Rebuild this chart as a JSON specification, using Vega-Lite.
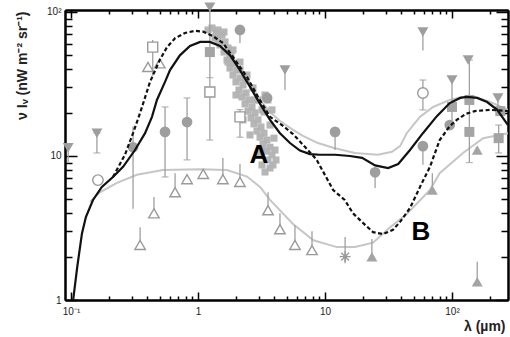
{
  "$schema": "https://vega.github.io/schema/vega-lite/v6.json",
  "width": 443,
  "height": 290,
  "autosize": {"type": "none"},
  "padding": {"left": 65, "top": 10, "right": 2, "bottom": 37},
  "background": "white",
  "config": {
    "view": {"stroke": null},
    "axis": {
      "grid": false,
      "domainColor": "#000",
      "domainWidth": 2,
      "tickColor": "#000",
      "tickWidth": 1.5,
      "labelFont": "Liberation Sans",
      "labelFontSize": 10,
      "labelColor": "#222",
      "titleFont": "Liberation Sans"
    }
  },
  "datasets": {
    "frame": [{"x": 1, "y": 10}],
    "curves": [
      {"s": "G2", "x": 0.141, "y": 4.8}, {"s": "G2", "x": 0.169, "y": 5.6}, {"s": "G2", "x": 0.23, "y": 6.5},
      {"s": "G2", "x": 0.33, "y": 7.4}, {"s": "G2", "x": 0.53, "y": 8.0}, {"s": "G2", "x": 1.04, "y": 8.1},
      {"s": "G2", "x": 1.69, "y": 8.0}, {"s": "G2", "x": 2.43, "y": 7.2}, {"s": "G2", "x": 3.08, "y": 6.1},
      {"s": "G2", "x": 3.69, "y": 4.95}, {"s": "G2", "x": 5.6, "y": 3.37}, {"s": "G2", "x": 8.1, "y": 2.6},
      {"s": "G2", "x": 12.4, "y": 2.33}, {"s": "G2", "x": 17.2, "y": 2.33}, {"s": "G2", "x": 23.9, "y": 2.5},
      {"s": "G2", "x": 32.6, "y": 3.2}, {"s": "G2", "x": 44, "y": 3.95}, {"s": "G2", "x": 67, "y": 5.8},
      {"s": "G2", "x": 80, "y": 7.6}, {"s": "G2", "x": 122, "y": 10.5}, {"s": "G2", "x": 176, "y": 13.3},
      {"s": "G2", "x": 276, "y": 14.4},

      {"s": "G1", "x": 2.34, "y": 37}, {"s": "G1", "x": 3.08, "y": 24.5}, {"s": "G1", "x": 3.69, "y": 20.2},
      {"s": "G1", "x": 4.42, "y": 17.5}, {"s": "G1", "x": 5.6, "y": 15.2}, {"s": "G1", "x": 6.7, "y": 13.8},
      {"s": "G1", "x": 8.8, "y": 12.3}, {"s": "G1", "x": 11.6, "y": 11.4}, {"s": "G1", "x": 17.2, "y": 10.5},
      {"s": "G1", "x": 26, "y": 10.2}, {"s": "G1", "x": 33.7, "y": 10.7}, {"s": "G1", "x": 39, "y": 11.7},
      {"s": "G1", "x": 44, "y": 14.4}, {"s": "G1", "x": 56, "y": 18.7}, {"s": "G1", "x": 71, "y": 21.9},
      {"s": "G1", "x": 96, "y": 24.5}, {"s": "G1", "x": 120, "y": 25.7}, {"s": "G1", "x": 151, "y": 25.7},
      {"s": "G1", "x": 200, "y": 23.7}, {"s": "G1", "x": 276, "y": 20.9},

      {"s": "A", "x": 0.102, "y": 0.85}, {"s": "A", "x": 0.104, "y": 1.0}, {"s": "A", "x": 0.112, "y": 1.7},
      {"s": "A", "x": 0.122, "y": 2.9}, {"s": "A", "x": 0.131, "y": 3.77}, {"s": "A", "x": 0.149, "y": 4.95},
      {"s": "A", "x": 0.175, "y": 6.1}, {"s": "A", "x": 0.214, "y": 7.15}, {"s": "A", "x": 0.257, "y": 8.4},
      {"s": "A", "x": 0.319, "y": 11.0}, {"s": "A", "x": 0.383, "y": 14.4}, {"s": "A", "x": 0.434, "y": 18.7},
      {"s": "A", "x": 0.475, "y": 24.5}, {"s": "A", "x": 0.55, "y": 32.7}, {"s": "A", "x": 0.602, "y": 39.5},
      {"s": "A", "x": 0.72, "y": 50}, {"s": "A", "x": 0.865, "y": 58}, {"s": "A", "x": 1.04, "y": 62},
      {"s": "A", "x": 1.24, "y": 62}, {"s": "A", "x": 1.49, "y": 58}, {"s": "A", "x": 1.79, "y": 50},
      {"s": "A", "x": 2.14, "y": 39.5}, {"s": "A", "x": 2.57, "y": 30.2}, {"s": "A", "x": 3.08, "y": 23},
      {"s": "A", "x": 3.69, "y": 17.8}, {"s": "A", "x": 4.42, "y": 14.4}, {"s": "A", "x": 5.3, "y": 12.3},
      {"s": "A", "x": 6.35, "y": 10.9}, {"s": "A", "x": 7.6, "y": 10.3}, {"s": "A", "x": 9.1, "y": 10.2},
      {"s": "A", "x": 12, "y": 10.2}, {"s": "A", "x": 15.7, "y": 10.0}, {"s": "A", "x": 19.6, "y": 9.7},
      {"s": "A", "x": 24.8, "y": 8.6}, {"s": "A", "x": 31.4, "y": 8.25}, {"s": "A", "x": 37.7, "y": 8.8},
      {"s": "A", "x": 46.7, "y": 11.0}, {"s": "A", "x": 59, "y": 14.4}, {"s": "A", "x": 76, "y": 18.9},
      {"s": "A", "x": 96, "y": 23.3}, {"s": "A", "x": 116, "y": 25.3}, {"s": "A", "x": 131, "y": 25.7},
      {"s": "A", "x": 158, "y": 25.3}, {"s": "A", "x": 189, "y": 23.7}, {"s": "A", "x": 227, "y": 20.9},
      {"s": "A", "x": 276, "y": 16.4},

      {"s": "B", "x": 0.214, "y": 7.15}, {"s": "B", "x": 0.266, "y": 10.2}, {"s": "B", "x": 0.308, "y": 14.4},
      {"s": "B", "x": 0.35, "y": 19.9}, {"s": "B", "x": 0.419, "y": 32.7}, {"s": "B", "x": 0.5, "y": 46.4},
      {"s": "B", "x": 0.57, "y": 57}, {"s": "B", "x": 0.66, "y": 65.7}, {"s": "B", "x": 0.79, "y": 71.5},
      {"s": "B", "x": 0.95, "y": 74}, {"s": "B", "x": 1.1, "y": 73}, {"s": "B", "x": 1.31, "y": 68},
      {"s": "B", "x": 1.57, "y": 61}, {"s": "B", "x": 1.96, "y": 46.4}, {"s": "B", "x": 2.43, "y": 35.4},
      {"s": "B", "x": 2.97, "y": 25.7}, {"s": "B", "x": 3.69, "y": 18.7}, {"s": "B", "x": 4.58, "y": 16.4},
      {"s": "B", "x": 5.6, "y": 14.2}, {"s": "B", "x": 7.0, "y": 11.5}, {"s": "B", "x": 8.6, "y": 9.4},
      {"s": "B", "x": 11.6, "y": 5.8}, {"s": "B", "x": 14.3, "y": 4.95}, {"s": "B", "x": 16.6, "y": 4.0},
      {"s": "B", "x": 19.9, "y": 3.43}, {"s": "B", "x": 23.9, "y": 2.96}, {"s": "B", "x": 28.6, "y": 2.87},
      {"s": "B", "x": 34.3, "y": 3.07}, {"s": "B", "x": 39, "y": 3.49}, {"s": "B", "x": 46.7, "y": 4.35},
      {"s": "B", "x": 56, "y": 6.1}, {"s": "B", "x": 67, "y": 8.4}, {"s": "B", "x": 80, "y": 12.9},
      {"s": "B", "x": 96, "y": 16.1}, {"s": "B", "x": 109, "y": 17.8}, {"s": "B", "x": 128, "y": 19.6},
      {"s": "B", "x": 151, "y": 20.5}, {"s": "B", "x": 200, "y": 20.9}, {"s": "B", "x": 276, "y": 20.5}
    ],
    "cloud": [
      {"x": 1.289, "y": 77.4}, {"x": 1.437, "y": 75.0}, {"x": 1.545, "y": 69.2}, {"x": 1.361, "y": 66.0},
      {"x": 1.632, "y": 61.9}, {"x": 1.490, "y": 59.0}, {"x": 1.723, "y": 56.2}, {"x": 1.602, "y": 52.7},
      {"x": 1.819, "y": 49.5}, {"x": 1.692, "y": 46.4}, {"x": 1.920, "y": 44.2}, {"x": 1.786, "y": 40.8},
      {"x": 2.028, "y": 39.6}, {"x": 1.886, "y": 36.5}, {"x": 2.142, "y": 34.8}, {"x": 1.991, "y": 32.7},
      {"x": 2.262, "y": 31.1}, {"x": 2.103, "y": 28.7}, {"x": 2.388, "y": 27.4}, {"x": 2.221, "y": 25.7},
      {"x": 2.521, "y": 24.5}, {"x": 2.345, "y": 23.0}, {"x": 2.662, "y": 21.9}, {"x": 2.476, "y": 20.5},
      {"x": 2.811, "y": 19.9}, {"x": 2.614, "y": 18.4}, {"x": 2.968, "y": 17.8}, {"x": 2.760, "y": 16.7},
      {"x": 3.134, "y": 15.9}, {"x": 2.915, "y": 14.9}, {"x": 3.309, "y": 14.4}, {"x": 3.078, "y": 13.5},
      {"x": 3.494, "y": 12.9}, {"x": 3.250, "y": 12.1}, {"x": 3.689, "y": 11.5}, {"x": 3.431, "y": 10.8},
      {"x": 3.825, "y": 10.2}, {"x": 3.558, "y": 9.38}, {"x": 3.895, "y": 8.66}, {"x": 3.689, "y": 8.25},
      {"x": 3.191, "y": 20.9}, {"x": 3.558, "y": 24.5}, {"x": 3.370, "y": 26.5}, {"x": 2.142, "y": 39.6},
      {"x": 2.388, "y": 33.7}, {"x": 2.811, "y": 24.5}, {"x": 3.191, "y": 11.0}, {"x": 4.040, "y": 11.0},
      {"x": 1.386, "y": 71.5}, {"x": 1.786, "y": 47.9},
      {"x": 1.602, "y": 72.6}, {"x": 1.886, "y": 54.5}, {"x": 2.142, "y": 44.9}, {"x": 2.432, "y": 36.5},
      {"x": 2.712, "y": 29.7}, {"x": 2.968, "y": 24.5}, {"x": 3.309, "y": 20.2}, {"x": 3.689, "y": 16.4},
      {"x": 3.966, "y": 13.3}, {"x": 4.113, "y": 9.38}, {"x": 1.437, "y": 63.9}, {"x": 1.199, "y": 75.0},
      {"x": 1.723, "y": 44.9}, {"x": 1.991, "y": 26.5}, {"x": 2.262, "y": 17.8}, {"x": 2.567, "y": 14.0},
      {"x": 2.968, "y": 10.2}, {"x": 3.370, "y": 7.74}, {"x": 3.191, "y": 8.66}, {"x": 3.825, "y": 20.9}
    ],
    "pts": [
      {"k": "fc", "x": 0.308, "y": 11.5}, {"k": "fc", "x": 0.55, "y": 14.7}, {"k": "fc", "x": 0.82, "y": 17.2},
      {"k": "fc", "x": 2.14, "y": 75}, {"k": "fc", "x": 3.5, "y": 25.3}, {"k": "fc", "x": 12, "y": 14.7},
      {"k": "fc", "x": 24.8, "y": 7.7}, {"k": "fc", "x": 59, "y": 11.7}, {"k": "fc", "x": 96, "y": 16.4},
      {"k": "oc", "x": 0.163, "y": 6.8}, {"k": "oc", "x": 59, "y": 27.4},
      {"k": "dt", "x": 0.095, "y": 11.4}, {"k": "dt", "x": 0.16, "y": 14.4}, {"k": "dt", "x": 1.24, "y": 108},
      {"k": "dt", "x": 4.84, "y": 39.5}, {"k": "dt", "x": 59, "y": 72.6}, {"k": "dt", "x": 100, "y": 33.7},
      {"k": "dt", "x": 134, "y": 46.4}, {"k": "dt", "x": 230, "y": 25.3},
      {"k": "ot", "x": 0.35, "y": 2.41}, {"k": "ot", "x": 0.45, "y": 4.0}, {"k": "ot", "x": 0.66, "y": 5.6},
      {"k": "ot", "x": 0.82, "y": 6.9}, {"k": "ot", "x": 1.1, "y": 7.5}, {"k": "ot", "x": 1.57, "y": 6.9},
      {"k": "ot", "x": 2.14, "y": 6.6}, {"k": "ot", "x": 3.56, "y": 4.2}, {"k": "ot", "x": 4.42, "y": 3.1},
      {"k": "ot", "x": 5.8, "y": 2.41}, {"k": "ot", "x": 7.9, "y": 2.22}, {"k": "ot", "x": 0.404, "y": 41.5},
      {"k": "ot", "x": 0.5, "y": 44},
      {"k": "os", "x": 0.44, "y": 57}, {"k": "os", "x": 1.24, "y": 27.8}, {"k": "os", "x": 2.14, "y": 18.7},
      {"k": "fs", "x": 1.24, "y": 52.7}, {"k": "fs", "x": 100, "y": 21.9}, {"k": "fs", "x": 137, "y": 24.5},
      {"k": "fs", "x": 137, "y": 14.7}, {"k": "fs", "x": 233, "y": 13.3}, {"k": "fs", "x": 240, "y": 20.5},
      {"k": "ft", "x": 23.4, "y": 2.0}, {"k": "ft", "x": 70, "y": 5.8}, {"k": "ft", "x": 158, "y": 11.0},
      {"k": "ft", "x": 158, "y": 1.34},
      {"k": "st", "x": 14.4, "y": 2.0}
    ],
    "bars": [
      {"x": 0.095, "lo": 9.0, "hi": 11.4, "cap": 0}, {"x": 0.16, "lo": 10.5, "hi": 14.4, "cap": 1},
      {"x": 0.308, "lo": 4.3, "hi": 16, "cap": 0}, {"x": 0.55, "lo": 7.15, "hi": 21.9, "cap": 1},
      {"x": 0.82, "lo": 9.4, "hi": 25.3, "cap": 1}, {"x": 0.44, "lo": 36, "hi": 64, "cap": 0},
      {"x": 0.35, "lo": 2.41, "hi": 3.2, "cap": 0}, {"x": 0.45, "lo": 4.0, "hi": 5.2, "cap": 0},
      {"x": 0.66, "lo": 5.6, "hi": 7.6, "cap": 0}, {"x": 1.24, "lo": 12.9, "hi": 35, "cap": 1},
      {"x": 1.24, "lo": 35, "hi": 105, "cap": 0}, {"x": 2.14, "lo": 61, "hi": 75, "cap": 0},
      {"x": 2.14, "lo": 13.5, "hi": 21, "cap": 1}, {"x": 1.57, "lo": 6.9, "hi": 9.7, "cap": 0},
      {"x": 2.14, "lo": 6.6, "hi": 8.8, "cap": 0}, {"x": 3.56, "lo": 4.2, "hi": 5.6, "cap": 0},
      {"x": 4.42, "lo": 3.1, "hi": 4.0, "cap": 0}, {"x": 5.8, "lo": 2.41, "hi": 3.3, "cap": 0},
      {"x": 7.9, "lo": 2.22, "hi": 3.0, "cap": 0}, {"x": 4.84, "lo": 28.7, "hi": 39.5, "cap": 0},
      {"x": 12, "lo": 11, "hi": 14.7, "cap": 0}, {"x": 24.8, "lo": 6.0, "hi": 7.7, "cap": 0},
      {"x": 14.4, "lo": 1.8, "hi": 2.74, "cap": 0}, {"x": 23.4, "lo": 2.0, "hi": 2.65, "cap": 0},
      {"x": 59, "lo": 54, "hi": 72.6, "cap": 0}, {"x": 59, "lo": 20.9, "hi": 33.7, "cap": 1},
      {"x": 59, "lo": 8.7, "hi": 11.7, "cap": 0}, {"x": 70, "lo": 5.8, "hi": 7.6, "cap": 0},
      {"x": 100, "lo": 16, "hi": 33.7, "cap": 0}, {"x": 137, "lo": 9.0, "hi": 46.4, "cap": 1},
      {"x": 158, "lo": 1.34, "hi": 1.84, "cap": 0}, {"x": 233, "lo": 10.5, "hi": 16.4, "cap": 1},
      {"x": 230, "lo": 20.5, "hi": 25.3, "cap": 0}
    ],
    "labels": [
      {"t": "A", "x": 3.02, "y": 10.2},
      {"t": "B", "x": 57, "y": 2.97}
    ]
  },
  "resolve": {"axis": {"x": "independent", "y": "independent"}},
  "layer": [
    {
      "data": {"name": "frame"},
      "mark": {"type": "point", "opacity": 0},
      "encoding": {
        "x": {"field": "x", "type": "quantitative", "scale": {"type": "log", "domain": [0.0897, 276], "nice": false},
          "axis": {"orient": "bottom", "values": [0.2, 0.3, 0.4, 0.5, 0.6, 0.7, 0.8, 0.9, 2, 3, 4, 5, 6, 7, 8, 9, 20, 30, 40, 50, 60, 70, 80, 90, 200], "tickSize": -4, "labels": false, "title": null}},
        "y": {"field": "y", "type": "quantitative", "scale": {"type": "log", "domain": [1, 103.2], "nice": false},
          "axis": {"orient": "left", "values": [2, 3, 4, 5, 6, 7, 8, 9, 20, 30, 40, 50, 60, 70, 80, 90], "tickSize": -7, "labels": false, "title": null}}
      }
    },
    {
      "data": {"name": "frame"},
      "mark": {"type": "point", "opacity": 0},
      "encoding": {
        "x": {"field": "x", "type": "quantitative", "scale": {"type": "log", "domain": [0.0897, 276], "nice": false},
          "axis": {"orient": "bottom", "values": [0.1, 1, 10, 100], "tickSize": -8, "labelPadding": 14,
            "labelExpr": "datum.value < 0.5 ? '10⁻¹' : datum.value < 5 ? '1' : datum.value < 50 ? '10' : '10²'",
            "title": "λ (µm)", "titleX": 440, "titleY": 30, "titleAlign": "right", "titleBaseline": "alphabetic",
            "titleFontSize": 14, "titleFontWeight": "bold", "titleColor": "#222"}},
        "y": {"field": "y", "type": "quantitative", "scale": {"type": "log", "domain": [1, 103.2], "nice": false},
          "axis": {"orient": "left", "values": [1, 10, 100], "tickSize": -12, "labelPadding": 16,
            "labelExpr": "datum.value < 5 ? '1' : datum.value < 50 ? '10' : '10²'",
            "title": "ν Iᵥ (nW m⁻² sr⁻¹)", "titleX": -43, "titleY": 1, "titleAngle": -90, "titleAlign": "right",
            "titleBaseline": "middle", "titleFontSize": 14, "titleFontWeight": "bold", "titleColor": "#222"}}
      }
    },
    {
      "data": {"name": "frame"},
      "mark": {"type": "point", "opacity": 0},
      "encoding": {
        "x": {"field": "x", "type": "quantitative", "scale": {"type": "log", "domain": [0.0897, 276], "nice": false},
          "axis": {"orient": "top", "values": [0.2, 0.3, 0.4, 0.5, 0.6, 0.7, 0.8, 0.9, 2, 3, 4, 5, 6, 7, 8, 9, 20, 30, 40, 50, 60, 70, 80, 90, 200], "tickSize": -4, "labels": false, "title": null}},
        "y": {"field": "y", "type": "quantitative", "scale": {"type": "log", "domain": [1, 103.2], "nice": false},
          "axis": {"orient": "right", "values": [2, 3, 4, 5, 6, 7, 8, 9, 20, 30, 40, 50, 60, 70, 80, 90], "tickSize": -7, "labels": false, "title": null}}
      }
    },
    {
      "data": {"name": "frame"},
      "mark": {"type": "point", "opacity": 0},
      "encoding": {
        "x": {"field": "x", "type": "quantitative", "scale": {"type": "log", "domain": [0.0897, 276], "nice": false},
          "axis": {"orient": "top", "values": [0.1, 1, 10, 100], "tickSize": -8, "labels": false, "title": null}},
        "y": {"field": "y", "type": "quantitative", "scale": {"type": "log", "domain": [1, 103.2], "nice": false},
          "axis": {"orient": "right", "values": [1, 10, 100], "tickSize": -12, "labels": false, "title": null}}
      }
    },
    {
      "data": {"name": "curves"},
      "transform": [{"filter": "datum.s == 'G2' || datum.s == 'G1'"}],
      "mark": {"type": "line", "color": "#c6c6c6", "strokeWidth": 2, "clip": true},
      "encoding": {
        "detail": {"field": "s"},
        "x": {"field": "x", "type": "quantitative", "scale": {"type": "log", "domain": [0.0897, 276], "nice": false}, "axis": null},
        "y": {"field": "y", "type": "quantitative", "scale": {"type": "log", "domain": [1, 103.2], "nice": false}, "axis": null}
      }
    },
    {
      "data": {"name": "cloud"},
      "mark": {"type": "point", "shape": "square", "filled": true, "color": "#b2b2b2", "size": 50, "opacity": 0.95},
      "encoding": {
        "x": {"field": "x", "type": "quantitative", "scale": {"type": "log", "domain": [0.0897, 276], "nice": false}, "axis": null},
        "y": {"field": "y", "type": "quantitative", "scale": {"type": "log", "domain": [1, 103.2], "nice": false}, "axis": null}
      }
    },
    {
      "data": {"name": "bars"},
      "mark": {"type": "rule", "color": "#a0a0a0", "strokeWidth": 1.3},
      "encoding": {
        "x": {"field": "x", "type": "quantitative", "scale": {"type": "log", "domain": [0.0897, 276], "nice": false}, "axis": null},
        "y": {"field": "lo", "type": "quantitative", "scale": {"type": "log", "domain": [1, 103.2], "nice": false}, "axis": null},
        "y2": {"field": "hi"}
      }
    },
    {
      "data": {"name": "bars"},
      "transform": [{"filter": "datum.cap == 1"}],
      "mark": {"type": "tick", "orient": "horizontal", "color": "#a0a0a0", "size": 7, "thickness": 1.3},
      "encoding": {
        "x": {"field": "x", "type": "quantitative", "scale": {"type": "log", "domain": [0.0897, 276], "nice": false}, "axis": null},
        "y": {"field": "lo", "type": "quantitative", "scale": {"type": "log", "domain": [1, 103.2], "nice": false}, "axis": null}
      }
    },
    {
      "data": {"name": "bars"},
      "transform": [{"filter": "datum.cap == 1"}],
      "mark": {"type": "tick", "orient": "horizontal", "color": "#a0a0a0", "size": 7, "thickness": 1.3},
      "encoding": {
        "x": {"field": "x", "type": "quantitative", "scale": {"type": "log", "domain": [0.0897, 276], "nice": false}, "axis": null},
        "y": {"field": "hi", "type": "quantitative", "scale": {"type": "log", "domain": [1, 103.2], "nice": false}, "axis": null}
      }
    },
    {
      "data": {"name": "pts"},
      "transform": [{"filter": "datum.k == 'fc'"}],
      "mark": {"type": "point", "shape": "circle", "filled": true, "color": "#9e9e9e", "size": 115, "opacity": 1},
      "encoding": {
        "x": {"field": "x", "type": "quantitative", "scale": {"type": "log", "domain": [0.0897, 276], "nice": false}, "axis": null},
        "y": {"field": "y", "type": "quantitative", "scale": {"type": "log", "domain": [1, 103.2], "nice": false}, "axis": null}
      }
    },
    {
      "data": {"name": "pts"},
      "transform": [{"filter": "datum.k == 'oc'"}],
      "mark": {"type": "point", "shape": "circle", "filled": false, "fill": "white", "stroke": "#9a9a9a", "strokeWidth": 1.4, "size": 110, "opacity": 1},
      "encoding": {
        "x": {"field": "x", "type": "quantitative", "scale": {"type": "log", "domain": [0.0897, 276], "nice": false}, "axis": null},
        "y": {"field": "y", "type": "quantitative", "scale": {"type": "log", "domain": [1, 103.2], "nice": false}, "axis": null}
      }
    },
    {
      "data": {"name": "pts"},
      "transform": [{"filter": "datum.k == 'dt'"}],
      "mark": {"type": "point", "shape": "triangle-down", "filled": true, "color": "#9e9e9e", "size": 120, "opacity": 1},
      "encoding": {
        "x": {"field": "x", "type": "quantitative", "scale": {"type": "log", "domain": [0.0897, 276], "nice": false}, "axis": null},
        "y": {"field": "y", "type": "quantitative", "scale": {"type": "log", "domain": [1, 103.2], "nice": false}, "axis": null}
      }
    },
    {
      "data": {"name": "pts"},
      "transform": [{"filter": "datum.k == 'ot'"}],
      "mark": {"type": "point", "shape": "triangle-up", "filled": false, "fill": "white", "stroke": "#9a9a9a", "strokeWidth": 1.4, "size": 110, "opacity": 1},
      "encoding": {
        "x": {"field": "x", "type": "quantitative", "scale": {"type": "log", "domain": [0.0897, 276], "nice": false}, "axis": null},
        "y": {"field": "y", "type": "quantitative", "scale": {"type": "log", "domain": [1, 103.2], "nice": false}, "axis": null}
      }
    },
    {
      "data": {"name": "pts"},
      "transform": [{"filter": "datum.k == 'os'"}],
      "mark": {"type": "point", "shape": "square", "filled": false, "fill": "white", "stroke": "#9a9a9a", "strokeWidth": 1.4, "size": 100, "opacity": 1},
      "encoding": {
        "x": {"field": "x", "type": "quantitative", "scale": {"type": "log", "domain": [0.0897, 276], "nice": false}, "axis": null},
        "y": {"field": "y", "type": "quantitative", "scale": {"type": "log", "domain": [1, 103.2], "nice": false}, "axis": null}
      }
    },
    {
      "data": {"name": "pts"},
      "transform": [{"filter": "datum.k == 'fs'"}],
      "mark": {"type": "point", "shape": "square", "filled": true, "color": "#a4a4a4", "size": 100, "opacity": 1},
      "encoding": {
        "x": {"field": "x", "type": "quantitative", "scale": {"type": "log", "domain": [0.0897, 276], "nice": false}, "axis": null},
        "y": {"field": "y", "type": "quantitative", "scale": {"type": "log", "domain": [1, 103.2], "nice": false}, "axis": null}
      }
    },
    {
      "data": {"name": "pts"},
      "transform": [{"filter": "datum.k == 'ft'"}],
      "mark": {"type": "point", "shape": "triangle-up", "filled": true, "color": "#a4a4a4", "size": 120, "opacity": 1},
      "encoding": {
        "x": {"field": "x", "type": "quantitative", "scale": {"type": "log", "domain": [0.0897, 276], "nice": false}, "axis": null},
        "y": {"field": "y", "type": "quantitative", "scale": {"type": "log", "domain": [1, 103.2], "nice": false}, "axis": null}
      }
    },
    {
      "data": {"name": "pts"},
      "transform": [{"filter": "datum.k == 'st'"}],
      "mark": {"type": "point", "shape": "M-1,0L1,0M0,-1L0,1M-0.7,-0.7L0.7,0.7M-0.7,0.7L0.7,-0.7", "filled": false, "stroke": "#9a9a9a", "strokeWidth": 1.4, "size": 120, "opacity": 1},
      "encoding": {
        "x": {"field": "x", "type": "quantitative", "scale": {"type": "log", "domain": [0.0897, 276], "nice": false}, "axis": null},
        "y": {"field": "y", "type": "quantitative", "scale": {"type": "log", "domain": [1, 103.2], "nice": false}, "axis": null}
      }
    },
    {
      "data": {"name": "curves"},
      "transform": [{"filter": "datum.s == 'A'"}],
      "mark": {"type": "line", "color": "#111", "strokeWidth": 2.2, "clip": true},
      "encoding": {
        "x": {"field": "x", "type": "quantitative", "scale": {"type": "log", "domain": [0.0897, 276], "nice": false}, "axis": null},
        "y": {"field": "y", "type": "quantitative", "scale": {"type": "log", "domain": [1, 103.2], "nice": false}, "axis": null}
      }
    },
    {
      "data": {"name": "curves"},
      "transform": [{"filter": "datum.s == 'B'"}],
      "mark": {"type": "line", "color": "#111", "strokeWidth": 2.2, "strokeDash": [4, 2.5], "clip": true},
      "encoding": {
        "x": {"field": "x", "type": "quantitative", "scale": {"type": "log", "domain": [0.0897, 276], "nice": false}, "axis": null},
        "y": {"field": "y", "type": "quantitative", "scale": {"type": "log", "domain": [1, 103.2], "nice": false}, "axis": null}
      }
    },
    {
      "data": {"name": "labels"},
      "mark": {"type": "text", "font": "Liberation Sans", "fontSize": 26, "fontWeight": "bold", "color": "#000", "align": "center", "baseline": "middle"},
      "encoding": {
        "text": {"field": "t"},
        "x": {"field": "x", "type": "quantitative", "scale": {"type": "log", "domain": [0.0897, 276], "nice": false}, "axis": null},
        "y": {"field": "y", "type": "quantitative", "scale": {"type": "log", "domain": [1, 103.2], "nice": false}, "axis": null}
      }
    }
  ]
}
